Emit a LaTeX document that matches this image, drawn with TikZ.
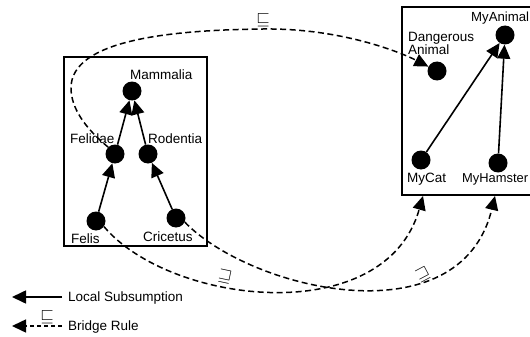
\documentclass[tikz,border=0pt]{standalone}
\usepackage{fontspec}
\setmainfont{Liberation Sans}
\usetikzlibrary{arrows.meta}
\begin{document}
\begin{tikzpicture}[x=1pt,y=-1pt,
  concept/.style={circle,fill=black,inner sep=0pt,minimum size=19pt},
  lbl/.style={anchor=base west,inner sep=0pt,font=\fontsize{13.5}{15}\selectfont},
  sub/.style={line width=1.6pt,-{Triangle[length=14pt,width=13pt]}},
  bridge/.style={line width=1.5pt,dash pattern=on 6pt off 3.5pt,-{Triangle[length=14pt,width=13pt]}},
  frame/.style={line width=2.2pt},
  rel/.style={inner sep=0pt,font=\fontsize{18}{20}\selectfont}]
\useasboundingbox (0,0) rectangle (530,337);
\clip (0,0) rectangle (530,337);

% ontology boxes
\draw[frame] (64,57) rectangle (207,246);
\draw[frame] (402,7) rectangle (545,195);

% left ontology
\node[concept] (mammalia) at (132,91) {};
\node[concept] (felidae)  at (115,154) {};
\node[concept] (rodentia) at (148,154) {};
\node[concept] (felis)    at (96,221) {};
\node[concept] (cricetus) at (176,218) {};
\node[lbl] at (130,79)  {Mammalia};
\node[lbl] at (70,143)  {Felidae};
\node[lbl] at (148,143) {Rodentia};
\node[lbl] at (71,243)  {Felis};
\node[lbl] at (143,241) {Cricetus};

% right ontology
\node[concept] (danger)   at (437,71) {};
\node[concept] (myanimal) at (505,35) {};
\node[concept] (mycat)    at (421,160) {};
\node[concept] (myhamster) at (498,163) {};
\node[lbl] at (408,42)  {Dangerous};
\node[lbl] at (408,55)  {Animal};
\node[lbl,font=\fontsize{13.2}{15}\selectfont] at (471,22)  {MyAnimal};
\node[lbl] at (407,182) {MyCat};
\node[lbl,font=\fontsize{12.9}{15}\selectfont] at (462,182) {MyHamster};
\coordinate (catin) at (423,196);
\coordinate (hamin) at (495,196);

% local subsumptions
\draw[sub] (felidae) -- (mammalia);
\draw[sub] (rodentia) -- (mammalia);
\draw[sub] (felis) -- (felidae);
\draw[sub] (cricetus) -- (rodentia);
\draw[sub] (mycat) -- (myanimal);
\draw[sub] (myhamster) -- (myanimal);

% bridge rules
\draw[bridge] (felidae.135) .. controls (85,128) and (71,108) .. (71,88)
  .. controls (71,40) and (170,30) .. (263,29)
  .. controls (340,28) and (400,52) .. (danger);
\draw[bridge] (felis.-35) .. controls (170,305) and (385,330) .. (catin);
\draw[bridge] (cricetus.-25) .. controls (250,290) and (460,340) .. (hamin);
\node[rel] at (263,20) {$\sqsubseteq$};
\node[rel,rotate=-12] at (225,277) {$\sqsupseteq$};
\node[rel,rotate=28] at (423,275) {$\sqsupseteq$};

% legend
\coordinate (l1a) at (62,297);
\coordinate (l1b) at (12,297);
\coordinate (l2a) at (62,326);
\coordinate (l2b) at (12,326);
\draw[sub] (l1a) -- (l1b);
\draw[bridge,dash pattern=on 4.5pt off 2.5pt] (l2a) -- (l2b);
\node[rel] at (47,317) {$\sqsubseteq$};
\node[lbl] at (68,301) {Local Subsumption};
\node[lbl] at (68,330) {Bridge Rule};
\end{tikzpicture}
\end{document}
